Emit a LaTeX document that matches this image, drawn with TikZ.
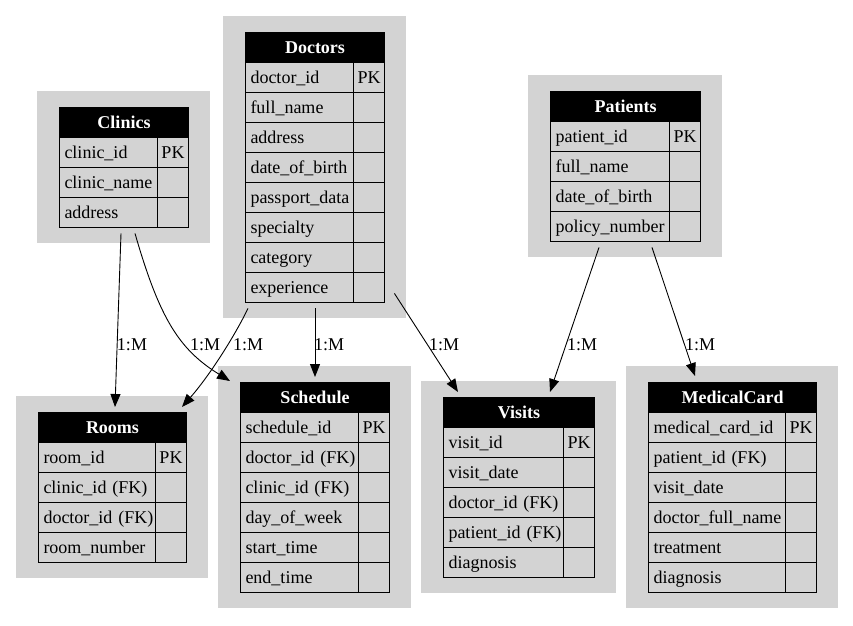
\documentclass[tikz,border=0pt]{standalone}
\usepackage{fontspec}
\setmainfont{Liberation Serif}
\usetikzlibrary{calc,arrows.meta}

\definecolor{panelgray}{HTML}{D3D3D3}

\tikzset{
  bgbox/.style={draw=none, fill=panelgray, inner sep=0pt, anchor=north west},
  headbox/.style={draw=black, fill=black, text=white, line width=1pt, inner sep=0pt,
    anchor=north west, minimum height=30pt, font=\fontsize{18}{20}\selectfont\bfseries,
    text height=13pt, text depth=1pt},
  fieldbox/.style={draw=black, fill=panelgray, line width=1pt, inner xsep=5pt, inner ysep=0pt,
    anchor=north west, minimum height=30pt, align=left, font=\fontsize{18}{20}\selectfont,
    text height=13pt, text depth=1pt},
  keybox/.style={draw=black, fill=panelgray, line width=1pt, inner sep=0pt,
    anchor=north west, minimum height=30pt, minimum width=31pt, font=\fontsize{18}{20}\selectfont,
    text height=13pt, text depth=1pt},
  edge/.style={draw=black, line width=0.9pt, -{Triangle[length=13pt,width=10pt]}},
  lbl/.style={anchor=base, inner sep=0pt, font=\fontsize{18}{20}\selectfont},
}

% \erentity{name}{title}{left}{top}{field column width}{field/key rows}
\newcommand\erentity[6]{%
  \foreach \f/\k [count=\n] in {#6} {\xdef\ernrows{\n}}%
  \node[bgbox, minimum width={(#5+75)*1pt}, minimum height={(62.5+30*\ernrows)*1pt}]
    (#1) at (#3-22,#4-16.5) {};
  \node[headbox, minimum width={(#5+31)*1pt}] (#1-head) at (#3,#4) {#2};
  \foreach \f/\k [count=\i] in {#6} {
    \node[fieldbox, text width={(#5-10)*1pt}] (#1-f\i) at (#3,#4+30*\i) {\mbox{\f}};
    \node[keybox] (#1-k\i) at (#3+#5,#4+30*\i) {\k};
  }%
}

\begin{document}
\begin{tikzpicture}[x=1pt,y=-1pt]
\useasboundingbox[fill=white] (0,0) rectangle (853,625);

\erentity{clinics}{Clinics}{59}{107}{98}{clinic\_id/PK, clinic\_name/{}, address/{}}
\erentity{doctors}{Doctors}{245}{32}{108}{doctor\_id/PK, full\_name/{}, address/{},
  date\_of\_birth/{}, passport\_data/{}, specialty/{}, category/{}, experience/{}}
\erentity{patients}{Patients}{550}{91}{119}{patient\_id/PK, full\_name/{},
  date\_of\_birth/{}, policy\_number/{}}
\erentity{rooms}{Rooms}{38}{412}{117}{room\_id/PK, clinic\_id (FK)/{},
  doctor\_id (FK)/{}, room\_number/{}}
\erentity{schedule}{Schedule}{240}{382}{118}{schedule\_id/PK, doctor\_id (FK)/{},
  clinic\_id (FK)/{}, day\_of\_week/{}, start\_time/{}, end\_time/{}}
\erentity{visits}{Visits}{443}{397}{120}{visit\_id/PK, visit\_date/{},
  doctor\_id (FK)/{}, patient\_id (FK)/{}, diagnosis/{}}
\erentity{medcard}{MedicalCard}{648}{382}{137}{medical\_card\_id/PK, patient\_id (FK)/{},
  visit\_date/{}, doctor\_full\_name/{}, treatment/{}, diagnosis/{}}

% relationships
\draw[edge] ($(clinics.south west)+(84,-10)$) -- ($(rooms.north west)+(99,11.5)$);
\draw[edge] ($(clinics.south west)+(98,-10)$) .. controls +(25,87) and +(-50,-31) ..
  ($(schedule.north west)+(12,15.5)$);
\draw[edge] ($(doctors.south west)+(25,-10)$) .. controls +(-13,27) and +(28,-32) ..
  ($(rooms.north west)+(166,11.5)$);
\draw[edge] ($(doctors.south west)+(92,-10)$) -- ($(schedule.north west)+(97,11.5)$);
\draw[edge] ($(doctors.south east)+(-12,-25)$) -- ($(visits.north west)+(37,11.5)$);
\draw[edge] ($(patients.south west)+(71,-10)$) -- ($(visits.north west)+(129,11.5)$);
\draw[edge] ($(patients.south west)+(124,-10)$) -- ($(medcard.north west)+(69,10.5)$);

% cardinality labels
\node[lbl] (l1) at (132,350) {1:M};
\node[lbl] (l2) at (205,350) {1:M};
\node[lbl] (l3) at (248,350) {1:M};
\node[lbl] (l4) at (329,350) {1:M};
\node[lbl] (l5) at (444,350) {1:M};
\node[lbl] (l6) at (582,350) {1:M};
\node[lbl] (l7) at (700,350) {1:M};
\end{tikzpicture}
\end{document}
